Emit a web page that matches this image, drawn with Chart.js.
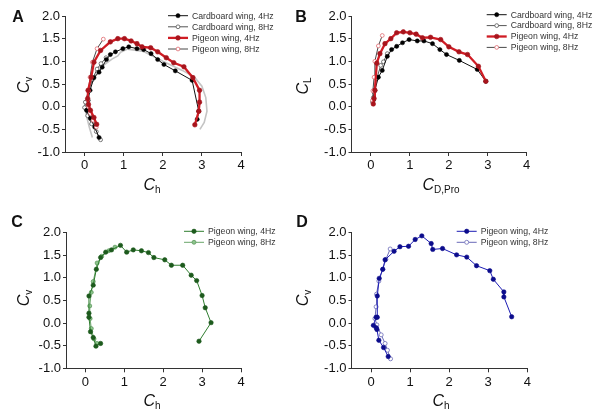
<!DOCTYPE html>
<html><head><meta charset="utf-8">
<script src="https://cdn.jsdelivr.net/npm/chart.js@4"></script>
<style>
body{margin:0;background:#fff;}
#wrap{position:relative;width:600px;height:420px;background:#fff;font-family:"Liberation Sans",Arial,sans-serif;}
canvas{position:absolute;}
.t{position:absolute;transform:translate(-50%,-50%);font-size:16px;color:#111;white-space:nowrap;line-height:1;}
.t i{font-style:italic;}
.t sub{font-size:10px;font-style:normal;vertical-align:-3px;}
.rot{transform:translate(-50%,-50%) rotate(-90deg);}
.L{position:absolute;transform:translate(-50%,-50%);font-size:16px;font-weight:bold;color:#111;}
</style></head><body>
<div id="wrap">
<canvas id="cA" width="300" height="210" style="left:0;top:0"></canvas>
<canvas id="cB" width="300" height="210" style="left:300px;top:0"></canvas>
<canvas id="cC" width="300" height="210" style="left:0;top:210px"></canvas>
<canvas id="cD" width="300" height="210" style="left:300px;top:210px"></canvas>
<div class="L" style="left:18px;top:17px">A</div>
<div class="L" style="left:301px;top:17px">B</div>
<div class="L" style="left:17px;top:222px">C</div>
<div class="L" style="left:302px;top:222px">D</div>
<div class="t rot" style="left:25px;top:85px"><i>C</i><sub>v</sub></div>
<div class="t" style="left:152px;top:186px"><i>C</i><sub>h</sub></div>
<div class="t rot" style="left:304px;top:86px"><i>C</i><sub>L</sub></div>
<div class="t" style="left:441px;top:186px"><i>C</i><sub>D,Pro</sub></div>
<div class="t rot" style="left:25px;top:298px"><i>C</i><sub>v</sub></div>
<div class="t" style="left:152px;top:402px"><i>C</i><sub>h</sub></div>
<div class="t rot" style="left:304px;top:298px"><i>C</i><sub>v</sub></div>
<div class="t" style="left:441px;top:402px"><i>C</i><sub>h</sub></div>
</div>
<script>
// ---- Data ----
const xTicks = [0, 1, 2, 3, 4];
const yTicks = [-1.0, -0.5, 0.0, 0.5, 1.0, 1.5, 2.0];

// Panel A
const aCard4X = [0.37,0.26,0.15,0.05,0.09,0.14,0.24,0.37,0.45,0.56,0.66,0.79,0.98,1.13,1.34,1.51,1.70,1.87,2.03,2.32,2.75,2.92,2.88];
const aCard4Y = [-0.68,-0.45,-0.26,-0.08,0.14,0.36,0.64,0.76,0.87,1.04,1.15,1.21,1.28,1.32,1.28,1.26,1.17,1.04,0.93,0.79,0.58,-0.10,-0.28];
const aCard8X = [0.41,0.30,0.18,0.08,0.00,0.02,0.10,0.20,0.32,0.42,0.55];
const aCard8Y = [-0.73,-0.55,-0.38,-0.20,-0.02,0.10,0.35,0.60,0.83,0.95,1.08];
const aPig4X = [0.31,0.24,0.15,0.10,0.08,0.09,0.17,0.24,0.41,0.66,0.85,1.02,1.19,1.34,1.47,1.69,1.87,2.09,2.28,2.54,2.77,2.94,2.94,2.92,2.82];
const aPig4Y = [-0.39,-0.24,-0.08,0.05,0.18,0.36,0.65,0.98,1.24,1.43,1.50,1.50,1.45,1.39,1.32,1.30,1.21,1.08,0.97,0.88,0.64,0.36,0.10,-0.10,-0.40];
const aPig8X = [0.30,0.22,0.15,0.10,0.08,0.10,0.14,0.20,0.32,0.48];
const aPig8Y = [-0.45,-0.30,-0.15,0.00,0.15,0.35,0.65,0.98,1.28,1.49];
const aGreyX = [0.20,0.12,0.05,0.02,0.06,0.15,0.30,0.50,0.70,0.85,0.92,1.10,1.50,2.00,2.50,2.80,3.00,3.10,3.13,3.06,2.95];
const aGreyY = [-0.68,-0.45,-0.20,0.00,0.20,0.45,0.72,0.92,1.05,1.12,1.20,1.27,1.22,1.00,0.80,0.66,0.45,0.20,-0.10,-0.35,-0.50];

// Panel B
const bCard4X = [0.06,0.10,0.19,0.29,0.42,0.53,0.66,0.81,0.98,1.19,1.36,1.58,1.77,1.94,2.27,2.73,2.95];
const bCard4Y = [0.14,0.36,0.65,0.80,1.11,1.26,1.33,1.41,1.48,1.45,1.45,1.39,1.26,1.15,1.02,0.82,0.56];
const bCard8X = [0.04,0.06,0.08,0.15,0.25,0.32,0.42];
const bCard8Y = [0.10,0.20,0.32,0.62,0.91,0.99,1.17];
const bPig4X = [0.06,0.08,0.10,0.15,0.23,0.36,0.51,0.66,0.83,1.00,1.16,1.32,1.53,1.79,2.00,2.26,2.48,2.76,2.95];
const bPig4Y = [0.06,0.18,0.36,0.96,1.17,1.39,1.50,1.63,1.65,1.63,1.60,1.52,1.53,1.48,1.32,1.21,1.15,0.89,0.56];
const bPig8X = [0.04,0.05,0.08,0.10,0.19,0.29];
const bPig8Y = [0.14,0.35,0.65,1.00,1.34,1.57];

// Panel C
const cPig4X = [0.39,0.27,0.20,0.13,0.09,0.09,0.09,0.20,0.28,0.39,0.52,0.67,0.90,1.06,1.23,1.44,1.62,1.76,2.04,2.21,2.50,2.72,2.86,3.00,3.08,3.23,2.92];
const cPig4Y = [-0.45,-0.51,-0.32,-0.19,0.13,0.22,0.60,0.84,1.19,1.45,1.57,1.62,1.72,1.57,1.62,1.60,1.56,1.45,1.40,1.28,1.28,1.06,0.94,0.61,0.34,0.01,-0.40];
const cPig8X = [0.30,0.22,0.15,0.12,0.11,0.15,0.20,0.30,0.42,0.60,0.76];
const cPig8Y = [-0.45,-0.35,-0.12,0.10,0.38,0.68,0.92,1.33,1.48,1.60,1.68];

// Panel D
const dPig4X = [0.44,0.32,0.20,0.15,0.13,0.06,0.13,0.16,0.16,0.21,0.30,0.36,0.59,0.74,0.96,1.13,1.30,1.54,1.58,1.83,2.19,2.45,2.70,3.04,3.13,3.40,3.40,3.60];
const dPig4Y = [-0.74,-0.54,-0.38,-0.14,-0.10,-0.05,0.13,0.13,0.60,0.99,1.19,1.40,1.59,1.69,1.70,1.85,1.93,1.76,1.63,1.65,1.51,1.46,1.27,1.16,0.97,0.69,0.58,0.14];
const dPig8X = [0.50,0.42,0.36,0.26,0.15,0.10,0.13,0.14,0.20,0.30,0.38,0.49];
const dPig8Y = [-0.79,-0.60,-0.45,-0.26,-0.04,0.10,0.36,0.64,0.93,1.19,1.41,1.64];

// ---- helpers ----
const zip = (xs, ys) => xs.map((x, i) => ({x, y: ys[i]}));
const FONT = '"Liberation Sans", Arial, sans-serif';

function ds(label, xs, ys, st, order) {
  return {
    label, data: zip(xs, ys), showLine: true, order,
    borderColor: st.line, borderWidth: st.lw,
    pointRadius: st.r, pointHoverRadius: st.r,
    pointBackgroundColor: st.fill, pointBorderColor: st.pb, pointBorderWidth: st.pbw
  };
}

const lineLegend = {
  id: 'lineLegend',
  afterDraw(chart, args, o) {
    const ctx = chart.ctx;
    let y = o.y;
    chart.data.datasets.forEach(d => {
      if (!d.label) return;
      ctx.save();
      ctx.strokeStyle = d.borderColor; ctx.lineWidth = d.borderWidth;
      ctx.beginPath(); ctx.moveTo(o.x, y); ctx.lineTo(o.x + 20, y); ctx.stroke();
      if (d.pointRadius > 0) {
        ctx.beginPath(); ctx.arc(o.x + 10, y, d.pointRadius, 0, Math.PI * 2);
        ctx.fillStyle = d.pointBackgroundColor; ctx.fill();
        ctx.lineWidth = d.pointBorderWidth; ctx.strokeStyle = d.pointBorderColor; ctx.stroke();
      }
      ctx.fillStyle = '#333'; ctx.font = '8.7px ' + FONT; ctx.textBaseline = 'middle';
      ctx.fillText(d.label, o.x + 24, y + 0.5);
      ctx.restore();
      y += o.dy;
    });
  }
};

function makeChart(id, datasets, area, legend) {
  const W = 300, H = 210;
  new Chart(document.getElementById(id), {
    type: 'scatter',
    data: { datasets },
    plugins: [lineLegend],
    options: {
      responsive: false, animation: false, events: [],
      layout: { padding: { left: 0, top: area.top, right: W - area.right, bottom: 0 } },
      plugins: { legend: { display: false }, tooltip: { enabled: false }, lineLegend: legend },
      scales: {
        x: {
          type: 'linear', min: -0.5, max: 4,
          afterBuildTicks: ax => { ax.ticks = xTicks.map(v => ({value: v})); },
          afterFit: ax => { ax.height = H - area.bottom; },
          border: { display: true, color: '#333', width: 1 },
          grid: { display: true, drawOnChartArea: false, drawTicks: true, tickLength: 4, color: '#333' },
          ticks: { color: '#111', font: { size: 13, family: FONT }, padding: 2, maxRotation: 0,
                   callback: v => String(v) }
        },
        y: {
          type: 'linear', min: -1, max: 2,
          afterBuildTicks: ax => { ax.ticks = yTicks.map(v => ({value: v})); },
          afterFit: ax => { ax.width = area.left; },
          border: { display: true, color: '#333', width: 1 },
          grid: { display: true, drawOnChartArea: false, drawTicks: true, tickLength: 3, color: '#333' },
          ticks: { color: '#111', font: { size: 13, family: FONT }, padding: 2,
                   callback: v => Number(v).toFixed(1) }
        }
      }
    }
  });
}

const stCard4 = {line:'#111', lw:1, r:2.1, fill:'#000', pb:'#000', pbw:0.5};
const stCard8 = {line:'#555', lw:1, r:1.9, fill:'#fff', pb:'#555', pbw:0.8};
const stPig4  = {line:'#d01c24', lw:2.3, r:2.3, fill:'#a8141c', pb:'#a8141c', pbw:0.6};
const stPig8  = {line:'#333', lw:0.9, r:1.9, fill:'#fff', pb:'#e06a70', pbw:0.8};
const stGrey  = {line:'#c4c4c4', lw:1.6, r:0, fill:'#ccc', pb:'#ccc', pbw:0};

makeChart('cA', [
  ds('Cardboard wing, 4Hz', aCard4X, aCard4Y, stCard4, 2),
  ds('Cardboard wing, 8Hz', aCard8X, aCard8Y, stCard8, 3),
  ds('Pigeon wing, 4Hz', aPig4X, aPig4Y, stPig4, 0),
  ds('Pigeon wing, 8Hz', aPig8X, aPig8Y, stPig8, 1),
  ds('', aGreyX, aGreyY, stGrey, 9)
], {left:65, right:241, top:16, bottom:152}, {x:168, y:15.7, dy:11.1});

makeChart('cB', [
  ds('Cardboard wing, 4Hz', bCard4X, bCard4Y, stCard4, 2),
  ds('Cardboard wing, 8Hz', bCard8X, bCard8Y, stCard8, 3),
  ds('Pigeon wing, 4Hz', bPig4X, bPig4Y, stPig4, 0),
  ds('Pigeon wing, 8Hz', bPig8X, bPig8Y, stPig8, 1)
], {left:51.5, right:226.7, top:16, bottom:152}, {x:186.7, y:14.7, dy:10.9});

makeChart('cC', [
  ds('Pigeon wing, 4Hz', cPig4X, cPig4Y, {line:'#2f7d2f', lw:1, r:2.2, fill:'#1d5a1d', pb:'#1d5a1d', pbw:0.6}, 0),
  ds('Pigeon wing, 8Hz', cPig8X, cPig8Y, {line:'#6aa56a', lw:1, r:2.0, fill:'#8cc48c', pb:'#5f9a5f', pbw:0.8}, 1)
], {left:66, right:241, top:22.7, bottom:158.3}, {x:184, y:21.3, dy:11});

makeChart('cD', [
  ds('Pigeon wing, 4Hz', dPig4X, dPig4Y, {line:'#1c1cb4', lw:1, r:2.2, fill:'#0c0c8c', pb:'#0c0c8c', pbw:0.6}, 0),
  ds('Pigeon wing, 8Hz', dPig8X, dPig8Y, {line:'#6a6ab8', lw:1, r:2.0, fill:'#fff', pb:'#6a6ab8', pbw:0.8}, 1)
], {left:51.5, right:227.3, top:22.7, bottom:158.3}, {x:156.7, y:21.3, dy:11});
</script>
</body></html>
